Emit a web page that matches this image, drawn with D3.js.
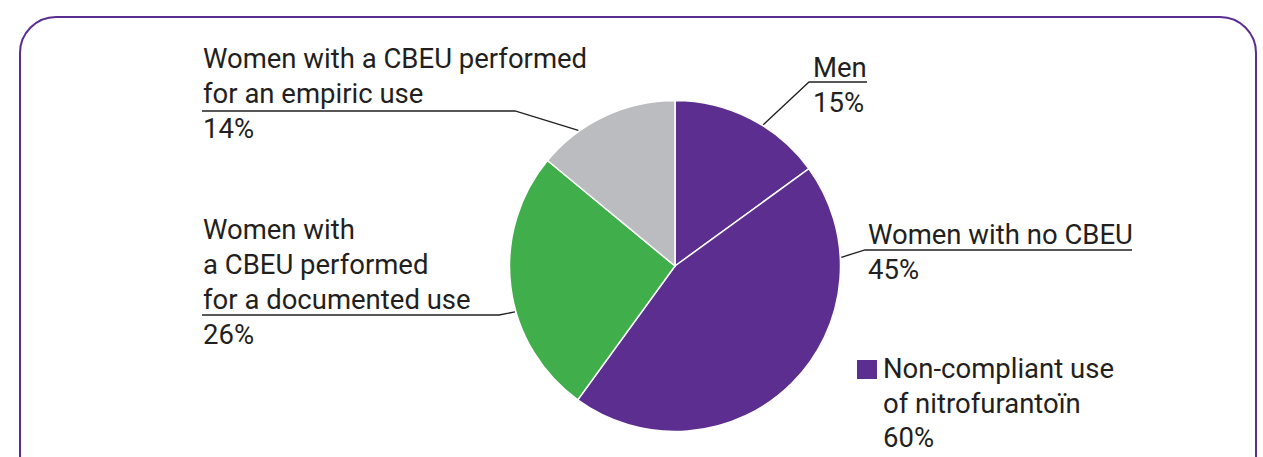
<!DOCTYPE html>
<html>
<head>
<meta charset="utf-8">
<script src="https://cdn.jsdelivr.net/npm/d3@7"></script>
<style>
  html, body { margin: 0; padding: 0; background: #fff; }
  svg { display: block; }
  text { font-family: Roboto, "Open Sans", sans-serif; fill: #231f20; }
</style>
</head>
<body>
<svg id="chart" width="1263" height="457"></svg>
<script>
// ---- data ----
const categories = ["Men", "Women with no CBEU", "Women with a CBEU performed for a documented use", "Women with a CBEU performed for an empiric use"];
const values = [15, 45, 26, 14];
const colors = ["#5b2e8f", "#5b2e8f", "#41ae4c", "#bbbcbf"];
const labelLines = [
  ["Men"],
  ["Women with no CBEU"],
  ["Women with", "a CBEU performed", "for a documented use"],
  ["Women with a CBEU performed", "for an empiric use"]
];
const legendLines = ["Non-compliant use", "of nitrofurantoïn", "60%"];

// ---- layout ----
const W = 1263, H = 457;
const cx = 675, cy = 266, R = 165.5;
const FS = 27.5, LH = 35;
const svg = d3.select("#chart");

// frame
svg.append("rect")
  .attr("x", 20).attr("y", 17).attr("width", 1236).attr("height", 500)
  .attr("rx", 36).attr("ry", 36)
  .attr("fill", "none").attr("stroke", "#5c2d91").attr("stroke-width", 2);

const pie = d3.pie().sort(null).value(d => d)(values);
const arc = d3.arc().innerRadius(0).outerRadius(R);
const g = svg.append("g").attr("transform", `translate(${cx},${cy})`);
g.selectAll("path").data(pie).join("path")
  .attr("d", arc)
  .attr("fill", (d, i) => colors[i])
  .attr("stroke", "#fff").attr("stroke-width", 1.5);

// label layout: text x, first baseline, underline y, underline x0,x1, leader angle (deg)
const labelLayout = [
  { tx: 813, by: 77, uy: 82, ux0: 809, ux1: 867, ang: 32, side: "right" },
  { tx: 868, by: 244, uy: 250, ux0: 865, ux1: 1132, ang: 87, side: "right" },
  { tx: 203, by: 239, uy: 315, ux0: 202, ux1: 499, ang: 254, side: "left" },
  { tx: 203, by: 68, uy: 111, ux0: 202, ux1: 515, ang: 324.5, side: "left" }
];

function onPie(angDeg, r) {
  const a = angDeg * Math.PI / 180;
  return [cx + r * Math.sin(a), cy - r * Math.cos(a)];
}

labelLayout.forEach((L, i) => {
  const lines = labelLines[i];
  const t = svg.append("text").attr("x", L.tx).attr("y", L.by).attr("font-size", FS);
  lines.forEach((ln, k) => {
    t.append("tspan").attr("x", L.tx).attr("y", L.by + k * LH).text(ln);
  });
  svg.append("text").attr("x", L.tx).attr("y", L.by + lines.length * LH)
    .attr("font-size", FS).text(values[i] + "%");
  const p = onPie(L.ang, R + 1);
  const knee = L.side === "right" ? [L.ux0, L.uy] : [L.ux1, L.uy];
  const pts = L.side === "right"
    ? [p, knee, [L.ux1, L.uy]]
    : [[L.ux0, L.uy], knee, p];
  svg.append("path")
    .attr("d", d3.line()(pts))
    .attr("fill", "none").attr("stroke", "#231f20").attr("stroke-width", 1.3);
});

// legend
svg.append("rect").attr("x", 857).attr("y", 360).attr("width", 20).attr("height", 19)
  .attr("fill", colors[0]);
legendLines.forEach((ln, k) => {
  svg.append("text").attr("x", 883).attr("y", 378 + k * 34.5)
    .attr("font-size", FS).text(ln);
});
</script>
</body>
</html>
